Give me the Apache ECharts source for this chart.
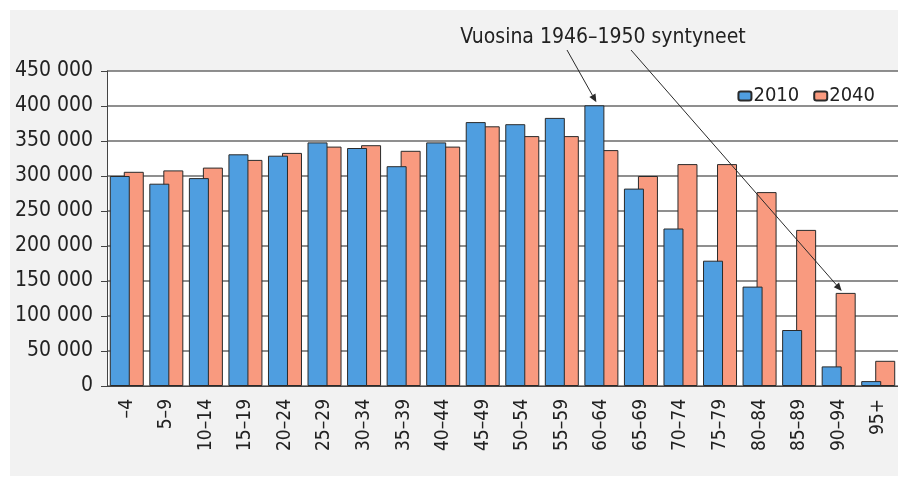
<!DOCTYPE html>
<html>
<head>
<meta charset="utf-8">
<script src="https://cdn.jsdelivr.net/npm/echarts@6/dist/echarts.min.js"></script>
<style>
  html, body { margin: 0; padding: 0; background: #fff; }
  #chart { width: 898px; height: 480px; }
</style>
</head>
<body>
<div id="chart"></div>
<script>
// ikäryhmät
var ageGroups = ['–4', '5–9', '10–14', '15–19', '20–24', '25–29', '30–34', '35–39', '40–44', '45–49',
  '50–54', '55–59', '60–64', '65–69', '70–74', '75–79', '80–84', '85–89', '90–94', '95+'];

var pop2010 = [300000, 289000, 297000, 331000, 329000, 348000, 340000, 314000, 348000, 377000,
  374000, 383000, 401000, 282000, 225000, 179000, 142000, 80000, 28000, 7000];

var pop2040 = [306000, 308000, 312000, 323000, 333000, 342000, 344000, 336000, 342000, 371000,
  357000, 357000, 337000, 300000, 317000, 317000, 277000, 223000, 133000, 36000];

var yTicks = [0, 50000, 100000, 150000, 200000, 250000, 300000, 350000, 400000, 450000];

var note = 'Vuosina 1946–1950 syntyneet';

var font = '"Liberation Sans Narrow", "DejaVu Sans Condensed", "Noto Sans", sans-serif';

var myEcharts = echarts.init(document.getElementById('chart'));

function fmt(v) {
  return String(v).replace(/\B(?=(\d{3})+(?!\d))/g, ' ');
}

myEcharts.setOption({
  backgroundColor: '#fff',
  animation: false,
  grid: {
    left: 107, top: 71, width: 792, height: 315,
    show: true, backgroundColor: '#fff', borderWidth: 0
  },
  legend: {
    right: 18, top: 81,
    itemWidth: 13, itemHeight: 9, itemGap: 14,
    textStyle: { fontFamily: font, fontSize: 20, color: '#222', padding: [0, 0, 0, -3] },
    data: ['2010', '2040']
  },
  xAxis: {
    type: 'category',
    data: ageGroups,
    axisLine: { lineStyle: { color: '#444', width: 1 } },
    axisTick: { alignWithLabel: true, length: 6, lineStyle: { color: '#444' } },
    axisLabel: { rotate: 90, interval: 0, margin: 13, fontFamily: font, fontSize: 19, color: '#222' }
  },
  yAxis: {
    type: 'value',
    min: yTicks[0], max: yTicks[yTicks.length - 1], interval: 50000,
    axisLine: { show: true, lineStyle: { color: '#444', width: 1 } },
    axisTick: { show: true, length: 6, lineStyle: { color: '#444' } },
    axisLabel: { fontFamily: font, fontSize: 21, color: '#222', margin: 14, formatter: fmt },
    splitLine: { lineStyle: { color: '#6a6a6a', width: 1.6 } }
  },
  series: [
    {
      name: '2010', type: 'bar', data: pop2010, z: 3,
      barWidth: 20, barGap: '-30%',
      itemStyle: { color: '#4f9ee0', borderColor: '#2a2a2a', borderWidth: 1 }
    },
    {
      name: '2040', type: 'bar', data: pop2040, z: 2,
      barWidth: 20,
      itemStyle: { color: '#f99a7f', borderColor: '#2a2a2a', borderWidth: 1 }
    }
  ]
});

// nuolet osoittavat 1946–1950 syntyneiden pylväisiin
function arrow(x1, y1, x2, y2) {
  var a = Math.atan2(y2 - y1, x2 - x1), L = 8, W = 3.5;
  var bx = x2 - L * Math.cos(a), by = y2 - L * Math.sin(a);
  return [
    { type: 'line', z: 10, shape: { x1: x1, y1: y1, x2: bx, y2: by }, style: { stroke: '#2a2a2a', lineWidth: 1 } },
    { type: 'polygon', z: 10, shape: { points: [[x2, y2],
      [bx + W * Math.sin(a), by - W * Math.cos(a)], [bx - W * Math.sin(a), by + W * Math.cos(a)]] },
      style: { fill: '#2a2a2a' } }
  ];
}

var i1 = ageGroups.indexOf('60–64'), i2 = ageGroups.indexOf('90–94');
var p1 = myEcharts.convertToPixel({ gridIndex: 0 }, [i1, pop2010[i1]]);
var p2 = myEcharts.convertToPixel({ gridIndex: 0 }, [i2, pop2040[i2]]);

var els = [
  { type: 'rect', z: -10, shape: { x: 10, y: 10, width: 888, height: 466 }, style: { fill: '#f2f2f2' } },
  { type: 'text', z: 10, x: 603, y: 38,
    style: { text: note, fontFamily: font, fontSize: 21, fill: '#222', align: 'center', verticalAlign: 'middle' } }
];
els = els.concat(arrow(567, 50, p1[0] - 5, p1[1] - 3));
els = els.concat(arrow(631, 50, p2[0] + 3, p2[1] - 2));

myEcharts.setOption({ graphic: { elements: els } });
</script>
</body>
</html>
